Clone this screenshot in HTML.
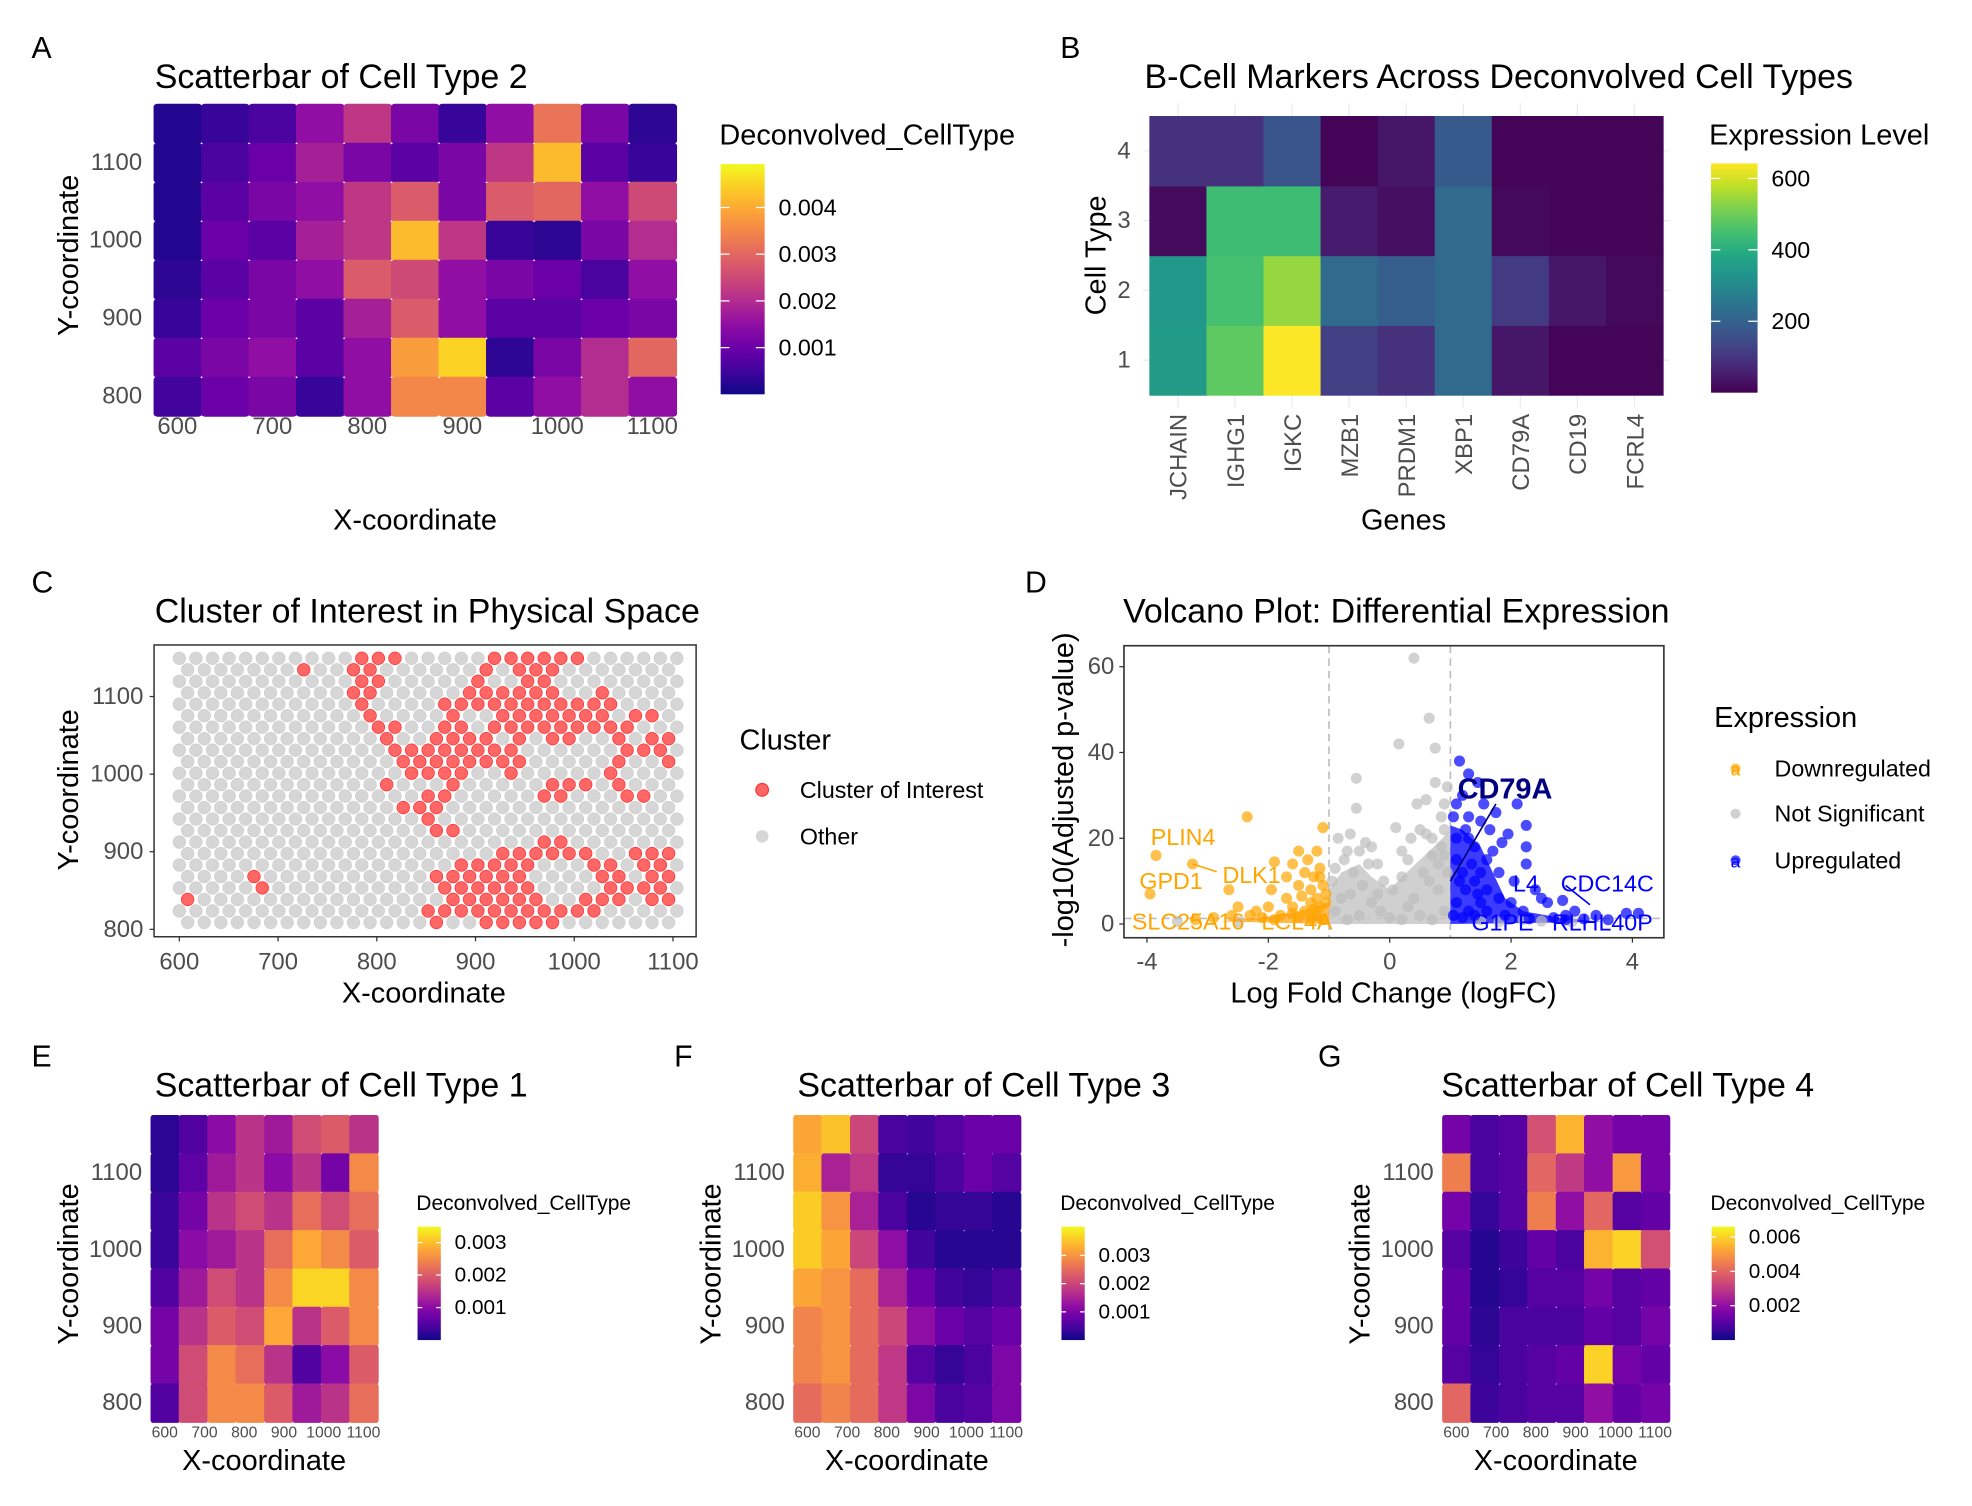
<!DOCTYPE html>
<html><head><meta charset="utf-8"><style>
html,body{margin:0;padding:0;background:#fff;}
svg{display:block;font-family:"Liberation Sans",Arial,sans-serif;}
</style></head><body>
<svg id="fig" width="1972" height="1506" viewBox="0 0 1568 1197.4" xmlns="http://www.w3.org/2000/svg"></svg>
<script>
// ---------- DATA ----------
const aRowsY=[1150,1100,1050,1000,950,900,850,800];
const aColsX=[600,650,700,750,800,850,900,950,1000,1050,1100];
const aVals=[
[0.0002,0.0004,0.0006,0.0015,0.0022,0.0012,0.0004,0.0015,0.0032,0.0012,0.0003],
[0.0002,0.0006,0.0010,0.0018,0.0012,0.0008,0.0012,0.0022,0.0042,0.0008,0.0004],
[0.0002,0.0008,0.0012,0.0015,0.0022,0.0028,0.0012,0.0028,0.0030,0.0015,0.0025],
[0.0002,0.0010,0.0008,0.0018,0.0022,0.0042,0.0022,0.0004,0.0003,0.0012,0.0020],
[0.0003,0.0008,0.0012,0.0015,0.0028,0.0025,0.0015,0.0012,0.0010,0.0006,0.0015],
[0.0004,0.0010,0.0012,0.0008,0.0018,0.0028,0.0015,0.0008,0.0008,0.0010,0.0012],
[0.0008,0.0012,0.0015,0.0008,0.0015,0.0038,0.0045,0.0003,0.0012,0.0020,0.0030],
[0.0005,0.0010,0.0012,0.0004,0.0015,0.0035,0.0035,0.0008,0.0015,0.0020,0.0015]];
const aTicks=[0.001,0.002,0.003,0.004];
const smallRowsY=[1150,1100,1050,1000,950,900,850,800];
const smallColsX=[600,671,743,814,886,957,1029,1100];
const eVals=[
[0.0002,0.0005,0.0010,0.0015,0.0012,0.0018,0.0020,0.0015],
[0.0002,0.0006,0.0012,0.0015,0.0010,0.0015,0.0008,0.0025],
[0.0003,0.0008,0.0015,0.0018,0.0015,0.0022,0.0018,0.0022],
[0.0003,0.0010,0.0012,0.0015,0.0022,0.0028,0.0025,0.0020],
[0.0005,0.0012,0.0018,0.0015,0.0025,0.0032,0.0032,0.0025],
[0.0008,0.0015,0.0020,0.0018,0.0028,0.0015,0.0020,0.0025],
[0.0008,0.0018,0.0025,0.0022,0.0015,0.0005,0.0010,0.0020],
[0.0005,0.0018,0.0025,0.0025,0.0020,0.0012,0.0015,0.0022]];
const fVals=[
[0.0032,0.0035,0.0020,0.0005,0.0004,0.0006,0.0008,0.0008],
[0.0033,0.0015,0.0018,0.0003,0.0003,0.0005,0.0008,0.0006],
[0.0036,0.0030,0.0015,0.0005,0.0002,0.0003,0.0003,0.0002],
[0.0036,0.0032,0.0020,0.0012,0.0004,0.0002,0.0002,0.0002],
[0.0032,0.0030,0.0025,0.0015,0.0008,0.0004,0.0003,0.0005],
[0.0028,0.0030,0.0025,0.0020,0.0012,0.0008,0.0006,0.0008],
[0.0028,0.0030,0.0025,0.0018,0.0006,0.0003,0.0005,0.0010],
[0.0025,0.0028,0.0025,0.0018,0.0010,0.0005,0.0006,0.0010]];
const gVals=[
[0.0015,0.0008,0.0010,0.0035,0.0055,0.0020,0.0015,0.0015],
[0.0045,0.0008,0.0010,0.0040,0.0030,0.0020,0.0050,0.0015],
[0.0015,0.0005,0.0010,0.0045,0.0020,0.0040,0.0010,0.0012],
[0.0010,0.0003,0.0006,0.0012,0.0008,0.0055,0.0060,0.0035],
[0.0012,0.0003,0.0005,0.0010,0.0010,0.0015,0.0010,0.0012],
[0.0012,0.0004,0.0008,0.0008,0.0008,0.0012,0.0010,0.0015],
[0.0010,0.0005,0.0008,0.0010,0.0012,0.0060,0.0015,0.0012],
[0.0040,0.0006,0.0008,0.0010,0.0010,0.0020,0.0012,0.0015]];
const eTicks=[0.001,0.002,0.003];
const fTicks=[0.001,0.002,0.003];
const gTicks=[0.002,0.004,0.006];
const genes=["JCHAIN","IGHG1","IGKC","MZB1","PRDM1","XBP1","CD79A","CD19","FCRL4"];
const cellTypes=[1,2,3,4];
const exprType1=[350,480,640,120,90,220,40,5,5];
const exprType2=[340,450,540,220,190,220,110,40,15];
const exprType3=[20,440,440,50,25,220,15,5,5];
const exprType4=[90,90,170,5,40,180,5,5,5];
const bTicks=[200,400,600];
const clusterRows=[
[11,12,13,19,20,21,22,23,24],[7,10,11,18,20,21,22],[11,12,18,21,22],[10,11,17,18,19,20,21,22,25],
[11,16,17,18,19,20,21,22,23,24,25,26],[11,16,19,20,21,22,23,24,25,27,28],[12,13,16,17,19,20,21,22,23,24,25,26,27],
[12,15,16,17,18,20,22,23,26,28,29],[13,14,15,16,17,18,19,20,27,28,29],[13,14,15,16,17,18,19,20,26,29],
[14,15,16,17,20,26],[12,16,22,23,24,26],[15,16,22,23,27,28],[13,14,15],[15],[15,16],[22,23],
[19,20,21,22,23,24,27,28,29],[17,18,19,20,21,25,26,28,29],[4,15,16,17,18,19,20,25,26,28,29],
[5,16,17,18,19,20,21,26,27,28,29],[0,16,17,18,19,20,21,24,25,26,28,29],[15,16,17,18,19,20,21,22,23,24,25],[15,18,19,20,21,22]];
const downPts=[[-3.85,16],[-3.95,7],[-2.65,8],[-2.35,25],[-1.1,22.5],[-1.5,17],[-1.2,17],[-1.6,14],[-1.9,14.5],[-1.4,12],[-1.25,11],[-1.15,13],[-1.5,9],[-1.3,8],[-1.2,6],[-1.7,6],[-1.95,8],[-2.0,4],[-2.2,3],[-2.5,4],[-2.6,2],[-2.9,1.5],[-1.6,4],[-1.4,3],[-1.15,4],[-1.2,2],[-1.5,1.5],[-1.8,2],[-1.1,9],[-1.05,5],[-1.3,5],[-2.3,2],[-3.2,1],[-1.7,11],[-1.35,15],[-3.25,14],[-2.1,1.5],[-1.9,1],[-1.6,2.5],[-1.3,1.2],[-1.1,1],[-1.15,11],[-1.05,7],[-1.25,3.5],[-1.45,6.5]];
const nsPts=[[0.4,62],[0.65,48],[0.15,42],[0.75,41],[-0.55,34],[0.75,33],[-0.55,27],[0.45,28],[0.6,29],[0.9,28],[0.95,32],[-0.65,21],[-0.85,20],[0.1,22.5],[0.5,22],[0.6,21],[0.35,20],[-0.4,19],[-0.5,17],[-0.3,18],[-0.75,15],[-0.9,13],[-0.6,12],[-0.2,14],[0.3,15],[0.7,16],[0.85,18],[-0.95,10],[-0.45,9],[0.05,8],[0.2,11],[0.55,12],[0.8,14],[0.9,22],[-0.8,6],[-0.3,5],[0.4,6],[0.8,8],[-0.9,3],[-0.5,2],[0,1.5],[0.5,2],[0.9,3],[-0.7,1],[0.2,1],[0.7,1],[1.8,0.5],[2.5,0.7],[3,0.5],[-2.5,0.5],[-3.5,0.6],[0.95,12],[0.85,25],[-0.2,7],[0.3,4],[0.65,10],[-0.65,7],[-0.15,3],[1.5,1],[2.2,1],[-0.7,17],[-0.35,14],[0.2,17],[0.7,20],[0.9,16],[-0.1,10]];
const upPts=[[1.15,38],[1.3,35],[1.45,33],[1.2,30],[1.3,25],[1.5,24],[2.1,28],[2.25,23],[1.65,22],[1.85,19],[1.95,21],[2.25,18],[2.25,14],[1.6,15],[1.8,12],[2.05,10],[1.4,10],[1.6,8],[2.5,6],[2.6,5],[2.4,8],[3.05,3],[2.85,5.5],[3.4,2],[3.9,2.5],[4.1,2.5],[3.6,1],[2.9,2],[2.7,1.5],[2.2,3],[2.0,5],[1.8,6],[1.5,5],[1.3,3],[1.1,20],[1.1,15],[1.15,10],[1.1,5],[1.2,1.5],[1.4,18],[1.35,14],[1.25,8],[1.6,3],[1.9,2],[2.3,1.2],[1.05,25],[1.1,28],[1.3,20],[1.5,12],[1.7,17],[1.2,12],[1.45,7],[1.05,2],[1.25,22],[1.55,28],[1.75,26],[1.4,2],[2.9,1],[3.2,1.2]];
const nsEnvelope=[[-1,0],[-1,8],[-0.8,12],[-0.5,14],[-0.3,11],[0,8],[0.2,11],[0.5,15],[0.8,19],[1,22],[1,0]];
const upEnvelope=[[1,0],[1,23],[1.2,22],[1.5,18],[1.7,12],[1.9,6],[2.2,3],[2.8,1.5],[3.5,0.5],[1,0]];
const downEnvelope=[[-1,0],[-1,5],[-1.5,3],[-2,1.8],[-2.8,0.6],[-1,0]];
const volX=[-4,-2,0,2,4];
const volY=[0,20,40,60];

// ---------- HELPERS ----------
const S="http://www.w3.org/2000/svg", svg=document.getElementById('fig');
function el(tag,attrs,parent){const e=document.createElementNS(S,tag);for(const k in attrs)e.setAttribute(k,attrs[k]);(parent||svg).appendChild(e);return e;}
function txt(s,x,y,size,opt){opt=opt||{};const t=el('text',{x:x,y:y,'font-size':size,fill:opt.fill||'#000','text-anchor':opt.anchor||'start'});
 if(opt.weight)t.setAttribute('font-weight',opt.weight);if(opt.rot)t.setAttribute('transform','rotate('+opt.rot+' '+x+' '+y+')');if(opt.db)t.setAttribute('dominant-baseline','central');t.textContent=s;return t;}
function interp(stops,t){t=Math.max(0,Math.min(1,t));const n=stops.length-1,i=Math.min(n-1,Math.floor(t*n)),f=t*n-i;
 const h=c=>[parseInt(c.substr(1,2),16),parseInt(c.substr(3,2),16),parseInt(c.substr(5,2),16)];
 const A=h(stops[i]),B=h(stops[i+1]);return 'rgb('+A.map((v,k)=>Math.round(v+(B[k]-v)*f)).join(',')+')';}
const plasma=['#0d0887','#41049d','#6a00a8','#8f0da4','#b12a90','#cc4778','#e16462','#f2844b','#fca636','#fcce25','#f0f921'];
const viridis=['#440154','#482475','#414487','#355f8d','#2a788e','#21918c','#22a884','#44bf70','#7ad151','#bddf26','#fde725'];
function gradient(id,stops){const d=svg.querySelector('defs')||el('defs',{});const g=el('linearGradient',{id:id,x1:0,y1:1,x2:0,y2:0},d);
 stops.forEach((c,i)=>el('stop',{offset:(i/(stops.length-1)),'stop-color':c},g));}
gradient('gPlasma',plasma);gradient('gViridis',viridis);

function colorbar(x,y0,y1,w,vmax,ticks,grad,name,fs){
 const cb=el('rect',{x:x,y:y0,width:w,height:y1-y0,fill:'url(#'+grad+')'});
 
 ticks.forEach(t=>{const yy=y1-(t/vmax)*(y1-y0);
  el('line',{x1:x,x2:x+w*0.2,y1:yy,y2:yy,stroke:'#fff','stroke-width':1});
  el('line',{x1:x+w*0.8,x2:x+w,y1:yy,y2:yy,stroke:'#fff','stroke-width':1});
  const l=txt(String(t),x+w+11,yy,fs,{db:1});});
}

function spatialPanel(o){
 const sx=v=>o.x600+(v-600)*o.kx, sy=v=>o.y800-(v-800)*o.ky;
 o.yt.forEach(v=>el('line',{x1:o.gx0,x2:o.gx1,y1:sy(v),y2:sy(v),stroke:'#ebebeb','stroke-width':1}));
 o.xt.forEach(v=>el('line',{x1:sx(v),x2:sx(v),y1:o.gy0,y2:o.gy1,stroke:'#ebebeb','stroke-width':1}));
 const g=el('g',{});
 o.rows.forEach((ry,ri)=>o.cols.forEach((cx,ci)=>{
  const v=o.vals[ri][ci];const c=interp(plasma,v/o.vmax);
  const e=el('rect',{x:sx(cx)-o.w/2,y:sy(ry)-o.h/2,width:o.w+0.8,height:o.h+0.8,rx:o.w*0.08,ry:o.h*0.08,fill:c},g);
  
 }));
 o.yt.forEach(v=>{const t=txt(String(v),o.ylabX,sy(v),o.tfs,{anchor:'end',fill:'#4d4d4d',db:1});});
 o.xt.forEach(v=>{const t=txt(String(v),sx(v),o.xlabY,o.xfs,{anchor:'middle',fill:'#4d4d4d'});});
}
const TF=27, AF=23, KF=19, LT=23, LL=18.5;

// ---------- PANEL A ----------
let t;
t=txt('A',25,46,24);
t=txt('Scatterbar of Cell Type 2',123,70,TF);
spatialPanel({name:'panel-a',x600:141,kx:0.7553,y800:315,ky:0.62,rows:aRowsY,cols:aColsX,vals:aVals,vmax:0.00493,w:37.8,h:31,
 xt:[600,700,800,900,1000,1100],yt:[800,900,1000,1100],gx0:122,gx1:537,gy0:85,gy1:325,ylabX:113,xlabY:345,tfs:KF,xfs:KF});
t=txt('Y-coordinate',62,203,AF,{anchor:'middle',rot:-90});
t=txt('X-coordinate',330,421,AF,{anchor:'middle'});
t=txt('Deconvolved_CellType',572,115,LT);
colorbar(573,130.4,313.5,35,0.00493,aTicks,'gPlasma','panel-a-colorbar',LL);

// ---------- PANEL B ----------
t=txt('B',843,46,24);
t=txt('B-Cell Markers Across Deconvolved Cell Types',910,70,TF);
(function(){
 const x0=913.9,x1=1322.3,y0=92.2,y1=314.1,cw=(x1-x0)/genes.length,rh=(y1-y0)/cellTypes.length,vmax=642;
 const data=[exprType1,exprType2,exprType3,exprType4];
 genes.forEach((gname,i)=>{const cx=x0+cw*(i+0.5);el('line',{x1:cx,x2:cx,y1:y0-10,y2:y1+10,stroke:'#ebebeb'});});
 cellTypes.forEach((c,j)=>{const cy=y1-rh*(j+0.5);el('line',{x1:x0-5,x2:x1+5,y1:cy,y2:cy,stroke:'#ebebeb'});});
 cellTypes.forEach((c,j)=>genes.forEach((gname,i)=>{
  const r=el('rect',{x:x0+cw*i,y:y1-rh*(j+1),width:cw+0.5,height:rh+0.5,fill:interp(viridis,data[j][i]/vmax)});
  
 }));
 cellTypes.forEach((c,j)=>{const tt=txt(String(c),899,y1-rh*(j+0.5),KF,{anchor:'end',fill:'#4d4d4d',db:1});});
 genes.forEach((gname,i)=>{const cx=x0+cw*(i+0.5)+7;const tt=txt(gname,cx,329,KF,{anchor:'end',fill:'#4d4d4d',rot:-90});});
 colorbar(1360.5,129.9,312.2,37,vmax,bTicks,'gViridis','panel-b-colorbar',LL);
})();
t=txt('Cell Type',879,203,AF,{anchor:'middle',rot:-90});
t=txt('Genes',1116,421,AF,{anchor:'middle'});
t=txt('Expression Level',1359,115,LT);

// ---------- PANEL C ----------
t=txt('C',25,471,24);
t=txt('Cluster of Interest in Physical Space',123,495,TF);
(function(){
 const sx=v=>142.6+(v-600)*0.785, sy=v=>738.9-(v-800)*0.617;
 const box=el('rect',{x:122.5,y:512.8,width:431,height:232,fill:'#fff',stroke:'#333','stroke-width':1.2});
 
 for(let r=0;r<24;r++){const n=(r%2)?30:31;for(let c=0;c<n;c++){
  const xv=600+c*16.8+((r%2)?8.4:0), yv=1149.3-r*14.8;
  const inC=clusterRows[r].indexOf(c)>=0;
  const d=el('circle',{cx:sx(xv),cy:sy(yv),r:5,fill:inC?'#ff6666':'#d6d6d6',stroke:inC?'#ff3333':'#cfcfcf','stroke-width':0.6});
  
 }}
 [800,900,1000,1100].forEach(v=>{el('line',{x1:119,x2:122.5,y1:sy(v),y2:sy(v),stroke:'#333'});const tt=txt(String(v),114,sy(v),KF,{anchor:'end',fill:'#4d4d4d',db:1});});
 [600,700,800,900,1000,1100].forEach(v=>{el('line',{x1:sx(v),x2:sx(v),y1:744.8,y2:748.5,stroke:'#333'});const tt=txt(String(v),sx(v),771,KF,{anchor:'middle',fill:'#4d4d4d'});});
})();
t=txt('Y-coordinate',62,628,AF,{anchor:'middle',rot:-90});
t=txt('X-coordinate',337,797,AF,{anchor:'middle'});
t=txt('Cluster',588,596,LT);
t=el('circle',{cx:606,cy:628,r:5,fill:'#ff6666',stroke:'#ff3333'});
t=el('circle',{cx:606,cy:665,r:5,fill:'#d6d6d6'});
t=txt('Cluster of Interest',636,628,LL,{db:1});
t=txt('Other',636,665,LL,{db:1});

// ---------- PANEL D ----------
t=txt('D',815,471,24);
t=txt('Volcano Plot: Differential Expression',893,495,TF);
(function(){
 const sx=v=>1105+v*48.25, sy=v=>734.7-v*3.41;
 const clip=el('clipPath',{id:'dclip'},svg.querySelector('defs'));el('rect',{x:893.7,y:513.4,width:429.3,height:232.2},clip);
 const box=el('rect',{x:893.7,y:513.4,width:429.3,height:232.2,fill:'#fff'});
 
 const g=el('g',{'clip-path':'url(#dclip)'});
 el('line',{x1:893.7,x2:1323,y1:sy(1.3),y2:sy(1.3),stroke:'#bdbdbd','stroke-dasharray':'6,4','stroke-width':1.3},g);
 [-1,1].forEach(v=>el('line',{x1:sx(v),x2:sx(v),y1:513.4,y2:745.6,stroke:'#bdbdbd','stroke-dasharray':'6,4','stroke-width':1.3},g));
 function env(arr,col,name){const p=el('polygon',{points:arr.map(q=>sx(q[0])+','+sy(q[1])).join(' '),fill:col,opacity:0.85},g);}
 env(nsEnvelope,'#c8c8c8','ns-density');env(downEnvelope,'#ffad33','down-density');env(upEnvelope,'#1a1aff','up-density');
 function pts(arr,col,name){arr.forEach(q=>{const c=el('circle',{cx:sx(q[0]),cy:sy(q[1]),r:4.4,fill:col,'fill-opacity':0.7},g);});}
 pts(nsPts,'#bebebe','ns-point');pts(downPts,'#ffa500','down-point');pts(upPts,'#0000ff','up-point');
 el('line',{x1:sx(-3.25),y1:sy(14),x2:sx(-2.85),y2:sy(12.2),stroke:'#ffa500','stroke-width':1.3},g);
 el('line',{x1:sx(1.75),y1:sy(28),x2:sx(1.0),y2:sy(10),stroke:'#000080','stroke-width':1.3},g);
 el('line',{x1:sx(2.9),y1:sy(9),x2:sx(3.3),y2:sy(4.5),stroke:'#0000ff','stroke-width':1.3},g);
 const lab=(s,x,y,c,sz,w,n)=>{const tt=txt(s,x,y,sz,{fill:c,weight:w});g.appendChild(tt);};
 lab('PLIN4',915,672,'#ffa500',18.5,null,'label-plin4');lab('GPD1',906,707,'#ffa500',18.5,null,'label-gpd1');
 lab('DLK1',972,702,'#ffa500',18.5,null,'label-dlk1');lab('SLC25A16',900,739,'#ffa500',18.5,null,'label-slc25a16');
 lab('LCL4A',1003,739,'#ffa500',18.5,null,'label-lcl4a');lab('CD79A',1159,635,'#000080',23,'bold','label-cd79a');
 lab('L4',1203,709,'#0000ff',18.5,null,'label-l4');lab('CDC14C',1241,709,'#0000ff',18.5,null,'label-cdc14c');
 lab('G1PE',1170,740,'#0000ff',18.5,null,'label-g1pe');lab('RLHL40P',1234,740,'#0000ff',18.5,null,'label-rlhl40p');
 el('rect',{x:893.7,y:513.4,width:429.3,height:232.2,fill:'none',stroke:'#333','stroke-width':1.3});
 volY.forEach(v=>{el('line',{x1:890,x2:893.7,y1:sy(v),y2:sy(v),stroke:'#333'});const tt=txt(String(v),886,sy(v),KF,{anchor:'end',fill:'#4d4d4d',db:1});});
 volX.forEach(v=>{el('line',{x1:sx(v),x2:sx(v),y1:745.6,y2:749.5,stroke:'#333'});const tt=txt(String(v),sx(v),771,KF,{anchor:'middle',fill:'#4d4d4d'});});
})();
t=txt('-log10(Adjusted p-value)',853,628,AF,{anchor:'middle',rot:-90});
t=txt('Log Fold Change (logFC)',1108,797,AF,{anchor:'middle'});
t=txt('Expression',1363,578,LT);
[['Downregulated','#ffa500',611],['Not Significant','#bebebe',647],['Upregulated','#0000ff',684]].forEach(e=>{
 const c=el('circle',{cx:1380,cy:e[2],r:4,fill:e[1],'fill-opacity':0.7});
 if(e[0]!=='Not Significant'){const a=txt('a',1380,e[2]+1,14,{anchor:'middle',fill:e[1],db:1});}
 const l=txt(e[0],1411,e[2],LL,{db:1});});

// ---------- PANELS E F G ----------
function small(letter,lx,title,plotX,vals,vmax,ticks,cbx,name){
 t=txt(letter,lx,848,24);
 t=txt(title,lx+98,872,TF);
 spatialPanel({name:name,x600:plotX,kx:0.316,y800:1115.3,ky:0.61,rows:smallRowsY,cols:smallColsX,vals:vals,vmax:vmax,w:22.6,h:30.5,
  xt:[600,700,800,900,1000,1100],yt:[800,900,1000,1100],gx0:plotX-8,gx1:plotX+166,gy0:892,gy1:1120,ylabX:plotX-18,xlabY:1143,tfs:KF,xfs:12.5});
 t=txt('Y-coordinate',plotX-69,1005,AF,{anchor:'middle',rot:-90});
 t=txt('X-coordinate',plotX+79,1169,AF,{anchor:'middle'});
 t=txt('Deconvolved_CellType',cbx,962,16.7);
 colorbar(cbx+1,975.3,1065.5,18.5,vmax,ticks,'gPlasma',name+'-colorbar',16.5);
}
small('E',25,'Scatterbar of Cell Type 1',131,eVals,0.00349,eTicks,331,'panel-e');
small('F',536,'Scatterbar of Cell Type 3',642,fVals,0.00402,fTicks,843,'panel-f');
small('G',1048,'Scatterbar of Cell Type 4',1158,gVals,0.0066,gTicks,1360,'panel-g');
</script>
</body></html>
